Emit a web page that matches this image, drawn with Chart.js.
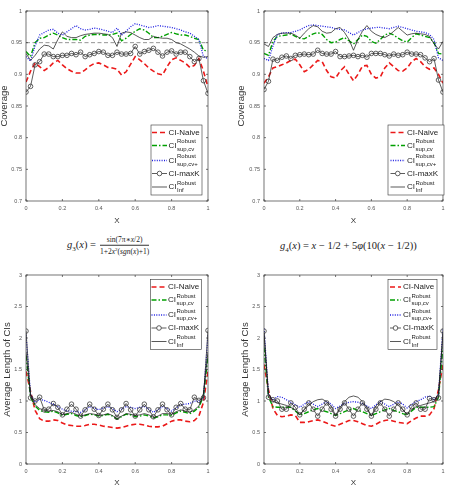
<!DOCTYPE html>
<html>
<head>
<meta charset="utf-8">
<script src="https://cdn.jsdelivr.net/npm/chart.js@4.4.1/dist/chart.umd.min.js"></script>
<style>
  body { margin:0; background:#fff; width:449px; height:492px; position:relative; overflow:hidden; }
  .wrap { position:absolute; }
  .formula { position:absolute; display:flex; align-items:center; transform:translateY(-50%);
    font-family:"Liberation Serif","DejaVu Serif",serif; font-size:10.5px; color:#222; white-space:nowrap; }
  .formula sub, .formula sup { font-size:7px; }
  .frac { display:inline-flex; flex-direction:column; align-items:center; font-size:7.5px; margin-left:4px; line-height:8.5px; }
  .frac sup { font-size:5px; }
  .frac .den { border-top:0.6px solid #333; }
</style>
</head>
<body>
<div class="wrap" style="left:0;top:0"><canvas id="c1" width="225" height="232"></canvas></div>
<div class="wrap" style="left:225px;top:0"><canvas id="c2" width="224" height="232"></canvas></div>
<div class="wrap" style="left:0;top:262px"><canvas id="c3" width="225" height="230"></canvas></div>
<div class="wrap" style="left:225px;top:262px"><canvas id="c4" width="224" height="230"></canvas></div>

<div class="formula" style="left:67px;top:246px">
  <span><i>g</i><sub>3</sub>(<i>x</i>) =</span>
  <span class="frac"><span>sin(7π∗<i>x</i>/2)</span><span class="den">1+2<i>x</i><sup>2</sup>(<i>sgn</i>(<i>x</i>)+1)</span></span>
</div>
<div class="formula" style="left:280px;top:247px">
  <span><i>g</i><sub>4</sub>(<i>x</i>) = <i>x</i> − 1/2 + 5<i>φ</i>(10(<i>x</i> − 1/2))</span>
</div>

<script>
// grid of x values
const xGrid = [0,0.025,0.05,0.075,0.1,0.125,0.15,0.175,0.2,0.225,0.25,0.275,0.3,0.325,0.35,0.375,0.4,0.425,0.45,0.475,0.5,
  0.525,0.55,0.575,0.6,0.625,0.65,0.675,0.7,0.725,0.75,0.775,0.8,0.825,0.85,0.875,0.9,0.925,0.95,0.975,1];

const xTicks = [0, 0.2, 0.4, 0.6, 0.8, 1];
const covTicks = [0.7, 0.75, 0.8, 0.85, 0.9, 0.95, 1];
const lenTicks = [0, 0.5, 1, 1.5, 2, 2.5, 3];
const nominalLevel = 0.95;

// coverage, g3
const covNaiveG3 = [0.888,0.905,0.918,0.912,0.906,0.911,0.918,0.922,0.915,0.909,0.905,0.902,0.902,0.907,0.913,0.917,0.918,0.915,0.911,0.910,0.908,
  0.899,0.904,0.916,0.928,0.923,0.917,0.910,0.905,0.901,0.899,0.912,0.923,0.926,0.922,0.918,0.911,0.914,0.925,0.905,0.880];
const covSupCvG3 = [0.936,0.928,0.950,0.957,0.958,0.962,0.965,0.962,0.958,0.955,0.955,0.955,0.954,0.960,0.962,0.963,0.963,0.962,0.962,0.963,0.965,
  0.953,0.957,0.963,0.968,0.972,0.970,0.965,0.958,0.958,0.960,0.963,0.966,0.964,0.962,0.962,0.960,0.957,0.955,0.938,0.937];
const covSupCvPlusG3 = [0.928,0.921,0.945,0.962,0.966,0.970,0.971,0.965,0.962,0.967,0.972,0.977,0.972,0.970,0.971,0.973,0.972,0.970,0.968,0.966,0.973,
  0.962,0.968,0.975,0.980,0.978,0.976,0.974,0.975,0.977,0.976,0.975,0.974,0.972,0.970,0.967,0.965,0.960,0.955,0.928,0.925];
const covMaxKG3 = [0.872,0.881,0.915,0.920,0.932,0.932,0.928,0.928,0.930,0.930,0.933,0.931,0.935,0.928,0.931,0.933,0.936,0.935,0.930,0.930,0.935,
  0.932,0.932,0.933,0.944,0.932,0.936,0.938,0.941,0.935,0.929,0.935,0.937,0.932,0.935,0.935,0.928,0.920,0.925,0.890,0.870];
const covInfG3 = [0.933,0.922,0.930,0.940,0.946,0.945,0.940,0.955,0.967,0.960,0.958,0.958,0.961,0.963,0.964,0.965,0.965,0.964,0.963,0.958,0.944,
  0.965,0.967,0.966,0.962,0.958,0.955,0.955,0.960,0.958,0.957,0.957,0.955,0.950,0.948,0.944,0.940,0.935,0.929,0.927,0.928];

// coverage, g4
const covNaiveG4 = [0.886,0.896,0.910,0.912,0.915,0.918,0.922,0.924,0.915,0.904,0.908,0.915,0.922,0.920,0.906,0.896,0.894,0.905,0.912,0.900,0.890,
  0.900,0.913,0.914,0.900,0.894,0.896,0.910,0.918,0.912,0.906,0.905,0.910,0.920,0.925,0.920,0.912,0.908,0.910,0.900,0.886];
const covSupCvG4 = [0.933,0.930,0.952,0.960,0.961,0.962,0.964,0.960,0.957,0.956,0.960,0.964,0.966,0.963,0.955,0.950,0.951,0.955,0.958,0.953,0.948,
  0.955,0.962,0.960,0.952,0.949,0.955,0.962,0.965,0.962,0.957,0.953,0.951,0.958,0.964,0.962,0.960,0.958,0.950,0.933,0.932];
const covSupCvPlusG4 = [0.925,0.922,0.945,0.963,0.965,0.966,0.966,0.968,0.970,0.974,0.977,0.978,0.977,0.976,0.975,0.974,0.972,0.971,0.970,0.966,0.962,
  0.966,0.970,0.972,0.973,0.974,0.974,0.973,0.972,0.974,0.976,0.974,0.972,0.970,0.968,0.967,0.966,0.963,0.955,0.926,0.922];
const covMaxKG4 = [0.876,0.889,0.924,0.922,0.927,0.929,0.925,0.930,0.931,0.932,0.931,0.932,0.938,0.933,0.932,0.932,0.936,0.928,0.928,0.929,0.930,
  0.928,0.930,0.927,0.933,0.933,0.933,0.931,0.929,0.932,0.930,0.931,0.935,0.932,0.932,0.931,0.926,0.920,0.925,0.891,0.872];
const covInfG4 = [0.948,0.944,0.958,0.963,0.965,0.965,0.965,0.962,0.957,0.965,0.972,0.977,0.975,0.968,0.965,0.966,0.972,0.974,0.966,0.955,0.938,
  0.955,0.968,0.977,0.968,0.963,0.960,0.958,0.962,0.968,0.974,0.968,0.962,0.964,0.965,0.964,0.963,0.960,0.948,0.940,0.952];

// average length, g3
const lenNaiveG3 = [1.47,1.15,0.85,0.72,0.68,0.68,0.70,0.69,0.65,0.62,0.61,0.60,0.60,0.61,0.63,0.63,0.62,0.60,0.59,0.58,0.57,
  0.58,0.60,0.62,0.63,0.63,0.62,0.60,0.59,0.59,0.60,0.64,0.68,0.70,0.70,0.68,0.67,0.69,0.76,0.98,1.48];
const lenSupCvG3 = [1.72,1.06,0.92,0.85,0.83,0.82,0.84,0.81,0.77,0.79,0.80,0.77,0.75,0.77,0.79,0.78,0.76,0.77,0.79,0.76,0.71,
  0.75,0.79,0.78,0.75,0.76,0.78,0.76,0.73,0.75,0.78,0.78,0.77,0.81,0.84,0.82,0.80,0.84,0.90,1.08,1.72];
const lenSupCvPlusG3 = [2.05,1.10,0.98,1.03,1.01,0.98,0.95,0.91,0.87,0.84,0.84,0.83,0.82,0.86,0.91,0.89,0.86,0.89,0.91,0.88,0.83,
  0.87,0.91,0.90,0.88,0.90,0.91,0.87,0.82,0.86,0.91,0.88,0.84,0.89,0.94,0.95,0.96,1.00,0.99,1.05,2.05];
const lenMaxKG3 = [2.11,1.05,1.00,1.06,0.86,0.87,0.96,0.90,0.78,0.87,0.95,0.87,0.76,0.86,0.95,0.87,0.77,0.87,0.95,0.86,0.74,
  0.86,0.96,0.86,0.76,0.86,0.95,0.86,0.75,0.86,0.95,0.86,0.78,0.90,0.96,0.87,0.86,1.06,1.01,1.05,2.12];
const lenInfG3 = [1.78,1.10,0.94,0.88,0.85,0.84,0.85,0.83,0.78,0.80,0.82,0.79,0.76,0.78,0.80,0.79,0.77,0.78,0.80,0.77,0.72,
  0.76,0.80,0.79,0.77,0.78,0.80,0.78,0.74,0.76,0.80,0.80,0.79,0.83,0.86,0.84,0.82,0.86,0.92,1.12,1.78];

// average length, g4
const lenNaiveG4 = [1.58,1.18,0.88,0.77,0.75,0.76,0.78,0.77,0.66,0.66,0.67,0.69,0.70,0.68,0.65,0.62,0.60,0.63,0.66,0.69,0.69,
  0.67,0.64,0.61,0.60,0.63,0.67,0.69,0.70,0.68,0.66,0.65,0.64,0.69,0.73,0.76,0.76,0.78,0.88,1.18,1.58];
const lenSupCvG4 = [1.85,1.06,0.91,0.90,0.90,0.90,0.90,0.84,0.78,0.80,0.83,0.86,0.88,0.85,0.83,0.80,0.77,0.80,0.83,0.86,0.88,
  0.85,0.83,0.80,0.77,0.80,0.83,0.86,0.88,0.85,0.83,0.80,0.78,0.84,0.90,0.90,0.90,0.90,0.91,1.06,1.85];
const lenSupCvPlusG4 = [2.15,1.10,1.01,1.07,1.06,1.02,0.98,0.94,0.90,0.95,0.99,0.95,0.91,0.95,0.99,0.95,0.88,0.92,0.96,0.98,0.99,
  0.98,0.96,0.92,0.88,0.94,0.99,0.95,0.91,0.95,0.99,0.95,0.89,0.94,0.99,1.02,1.06,1.08,1.02,1.10,2.15];
const lenMaxKG4 = [2.11,1.06,1.02,1.00,0.87,0.87,0.97,0.90,0.78,0.87,0.97,0.87,0.76,0.87,0.97,0.87,0.76,0.87,0.97,0.87,0.76,
  0.87,0.97,0.87,0.76,0.87,0.97,0.87,0.76,0.87,0.97,0.87,0.78,0.91,0.97,0.87,0.87,1.04,1.02,1.05,2.11];
const lenInfG4 = [2.07,1.12,0.99,0.97,0.95,0.93,0.90,0.85,0.78,0.86,0.93,0.99,1.02,1.03,0.99,0.92,0.77,0.90,0.99,1.06,1.08,
  1.06,0.99,0.90,0.76,0.92,0.99,1.03,1.02,0.99,0.93,0.86,0.79,0.86,0.91,0.93,0.95,0.97,0.99,1.12,2.07];

// legend labels (main text, superscript, subscript)
const legendLabels = [
  { main: 'CI-Naive' },
  { main: 'CI', sup: 'Robust', sub: 'sup,cv' },
  { main: 'CI', sup: 'Robust', sub: 'sup,cv+' },
  { main: 'CI-maxK' },
  { main: 'CI', sup: 'Robust', sub: 'Inf' }
];

const seriesStyles = [
  { borderColor: 'rgb(235,25,25)', borderWidth: 1.6, borderDash: [5, 3] },
  { borderColor: 'rgb(0,160,0)', borderWidth: 1.4, borderDash: [5, 2, 1.5, 2] },
  { borderColor: 'rgb(30,30,225)', borderWidth: 1.3, borderDash: [1, 1.4] },
  { borderColor: '#333', borderWidth: 0.8, pointRadius: 2.3, pointBorderWidth: 0.8, pointBorderColor: '#3a3a3a', pointBackgroundColor: 'rgba(255,255,255,0)' },
  { borderColor: '#111', borderWidth: 0.7 }
];

const sansFont = '"Liberation Sans", Arial, sans-serif';

function pts(ys) { return ys.map((y, i) => ({ x: xGrid[i], y: y })); }

// draws box, inward ticks and legend like matlab
const matlabBox = {
  id: 'matlabBox',
  afterDraw(chart) {
    const o = chart.options.plugins.matlabBox;
    const ctx = chart.ctx, a = chart.chartArea;
    const xs = chart.scales.x, ys = chart.scales.y;
    ctx.save();
    ctx.strokeStyle = '#3a3a3a';
    ctx.lineWidth = 0.7;
    ctx.setLineDash([]);
    ctx.strokeRect(a.left, a.top, a.right - a.left, a.bottom - a.top);
    ctx.beginPath();
    xs.ticks.forEach(t => {
      const p = xs.getPixelForValue(t.value);
      ctx.moveTo(p, a.bottom); ctx.lineTo(p, a.bottom - 2);
      ctx.moveTo(p, a.top); ctx.lineTo(p, a.top + 2);
    });
    ys.ticks.forEach(t => {
      const p = ys.getPixelForValue(t.value);
      ctx.moveTo(a.left, p); ctx.lineTo(a.left + 2, p);
      ctx.moveTo(a.right, p); ctx.lineTo(a.right - 2, p);
    });
    ctx.stroke();

    // legend
    const L = o.legend;
    ctx.fillStyle = '#fff';
    ctx.fillRect(L.x, L.y, L.w, L.h);
    ctx.strokeStyle = '#333';
    ctx.lineWidth = 0.6;
    ctx.strokeRect(L.x, L.y, L.w, L.h);
    const rows = [7.5, 20.5, 35.5, 48.5, 62];
    legendLabels.forEach((lab, i) => {
      const st = seriesStyles[i];
      const cy = L.y + rows[i];
      ctx.strokeStyle = st.borderColor;
      ctx.lineWidth = st.borderWidth;
      ctx.setLineDash(st.borderDash || []);
      ctx.beginPath();
      ctx.moveTo(L.x + L.s0, cy); ctx.lineTo(L.x + L.s1, cy);
      ctx.stroke();
      ctx.setLineDash([]);
      if (st.pointRadius) {
        ctx.beginPath();
        ctx.arc(L.x + (L.s0 + L.s1) / 2, cy, st.pointRadius, 0, Math.PI * 2);
        ctx.fillStyle = '#fff';
        ctx.fill();
        ctx.strokeStyle = st.pointBorderColor;
        ctx.lineWidth = st.pointBorderWidth;
        ctx.stroke();
      }
      ctx.fillStyle = '#222';
      ctx.textBaseline = 'middle';
      ctx.textAlign = 'left';
      ctx.font = '8px ' + sansFont;
      const tx = L.x + L.tx;
      ctx.fillText(lab.main, tx, cy);
      if (lab.sup) {
        const w = ctx.measureText(lab.main).width + 0.5;
        ctx.font = '6px ' + sansFont;
        ctx.fillText(lab.sup, tx + w, cy - 4);
        ctx.fillText(lab.sub, tx + w, cy + 3.5);
      }
    });
    ctx.restore();
  }
};

function makeChart(id, series, yTicks, yMin, yMax, yTitle, geo) {
  const datasets = series.map((ys, i) => Object.assign({
    data: pts(ys),
    pointRadius: 0,
    fill: false,
    tension: 0,
    order: i === 4 ? 0 : 5 - i
  }, seriesStyles[i]));
  if (geo.refLine) {
    datasets.push({
      data: [{ x: 0, y: nominalLevel }, { x: 1, y: nominalLevel }],
      borderColor: '#666', borderWidth: 0.7, borderDash: [4, 2.5], pointRadius: 0, order: 9
    });
  }
  const tickFont = { family: sansFont, size: 5.5 };
  return new Chart(document.getElementById(id), {
    type: 'line',
    data: { datasets: datasets },
    options: {
      responsive: false,
      animation: false,
      events: [],
      layout: { autoPadding: false, padding: geo.pad },
      plugins: { legend: { display: false }, tooltip: { enabled: false }, matlabBox: { legend: geo.legend } },
      scales: {
        x: {
          type: 'linear', min: 0, max: 1,
          grid: { display: false, drawTicks: false },
          border: { display: false },
          afterBuildTicks: s => { s.ticks = xTicks.map(v => ({ value: v })); },
          afterFit: s => { s.height = geo.xh; },
          ticks: { font: tickFont, color: '#555', padding: 4.5, maxRotation: 0, callback: v => String(+v.toFixed(2)) },
          title: { display: true, text: 'X', color: '#333', font: { family: sansFont, size: 8 }, padding: { top: 0, bottom: geo.xtp } }
        },
        y: {
          type: 'linear', min: yMin, max: yMax,
          grid: { display: false, drawTicks: false },
          border: { display: false },
          afterBuildTicks: s => { s.ticks = yTicks.map(v => ({ value: v })); },
          afterFit: s => { s.width = geo.yw; },
          ticks: { font: tickFont, color: '#555', padding: 4, callback: v => String(+v.toFixed(2)) },
          title: { display: true, text: yTitle, color: '#333', font: { family: sansFont, size: 9.5 }, padding: { top: geo.ytp, bottom: 0 } }
        }
      }
    },
    plugins: [matlabBox]
  });
}

makeChart('c1', [covNaiveG3, covSupCvG3, covSupCvPlusG3, covMaxKG3, covInfG3], covTicks, 0.7, 1, 'Coverage', {
  pad: { left: 0, top: 11, right: 17, bottom: 0 }, yw: 26, xh: 31, xtp: 6, ytp: -1.2, refLine: true,
  legend: { x: 151, y: 125, w: 51, h: 70, s0: 1, s1: 16, tx: 17.5 }
});
makeChart('c2', [covNaiveG4, covSupCvG4, covSupCvPlusG4, covMaxKG4, covInfG4], covTicks, 0.7, 1, 'Coverage', {
  pad: { left: 0, top: 11, right: 4, bottom: 0 }, yw: 39, xh: 31, xtp: 6, ytp: 10.8, refLine: true,
  legend: { x: 163, y: 125, w: 56, h: 70, s0: 2.5, s1: 17, tx: 19 }
});
makeChart('c3', [lenNaiveG3, lenSupCvG3, lenSupCvPlusG3, lenMaxKG3, lenInfG3], lenTicks, 0, 3, 'Average Length of CIs', {
  pad: { left: 0, top: 13, right: 17, bottom: 0 }, yw: 26, xh: 28, xtp: 4, ytp: 1.8, refLine: false,
  legend: { x: 150.5, y: 17.5, w: 51, h: 70, s0: 1, s1: 16, tx: 17.5 }
});
makeChart('c4', [lenNaiveG4, lenSupCvG4, lenSupCvPlusG4, lenMaxKG4, lenInfG4], lenTicks, 0, 3, 'Average Length of CIs', {
  pad: { left: 0, top: 13, right: 4, bottom: 0 }, yw: 39, xh: 28, xtp: 4, ytp: 14.8, refLine: false,
  legend: { x: 163, y: 17.5, w: 49, h: 70, s0: 2, s1: 13, tx: 15 }
});
</script>
</body>
</html>
